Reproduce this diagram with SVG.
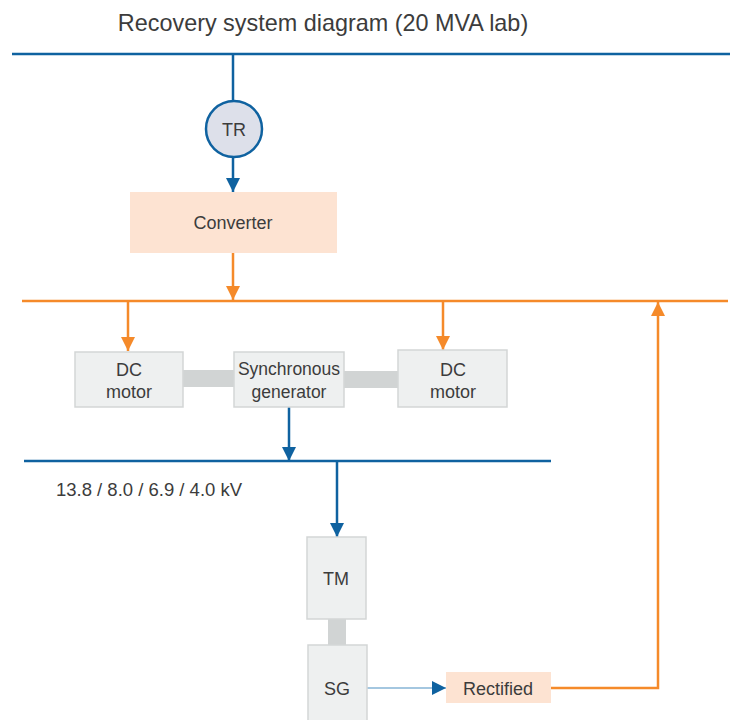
<svg xmlns="http://www.w3.org/2000/svg" width="730" height="720" viewBox="0 0 730 720">
<defs>
<marker id="ab" viewBox="0 0 14 14" refX="14" refY="7" markerWidth="14" markerHeight="14" markerUnits="userSpaceOnUse" orient="auto"><path d="M0,0 L14,7 L0,14 Z" fill="#0f62a0"/></marker>
<marker id="ao" viewBox="0 0 14 14" refX="14" refY="7" markerWidth="14" markerHeight="14" markerUnits="userSpaceOnUse" orient="auto"><path d="M0,0 L14,7 L0,14 Z" fill="#f58a2a"/></marker>
</defs>
<style>
text{font-family:"Liberation Sans",Arial,sans-serif;fill:#3c3c3c;font-size:18px;text-anchor:middle}
.box{fill:#eef0f0;stroke:#d3d6d6;stroke-width:1.5}
.peach{fill:#fde3d2}
.shaft{fill:#d1d4d4}
.b{stroke:#0f62a0;stroke-width:2.5;fill:none}
.o{stroke:#f58a2a;stroke-width:2.5;fill:none}
</style>
<rect width="730" height="720" fill="#fff"/>
<text x="323" y="31" style="font-size:23.4px">Recovery system diagram (20 MVA lab)</text>
<g id="connectors">
<line class="b" x1="12" y1="54" x2="730" y2="54"/>
<line class="b" x1="233" y1="54" x2="233" y2="101"/>
<path class="b" d="M233,158 V192" marker-end="url(#ab)"/>
<path class="o" d="M233,253 V300" marker-end="url(#ao)"/>
<line class="o" x1="22" y1="301" x2="728" y2="301"/>
<path class="o" d="M128,301 V351" marker-end="url(#ao)"/>
<path class="o" d="M443,301 V350" marker-end="url(#ao)"/>
<rect class="shaft" x="183" y="370" width="51" height="17"/>
<rect class="shaft" x="344" y="371" width="54" height="17"/>
<path class="b" d="M289,407 V461" marker-end="url(#ab)"/>
<line class="b" x1="24" y1="461" x2="551" y2="461"/>
<path class="b" d="M337,461 V537" marker-end="url(#ab)"/>
<rect class="shaft" x="328" y="619" width="18" height="26"/>
<path d="M367,688 H446" stroke="#4a8fc2" stroke-width="1.2" fill="none" marker-end="url(#ab)"/>
<path class="o" d="M551,688 H658 V302" marker-end="url(#ao)"/>
</g>
<g id="tr"><circle cx="234" cy="129" r="28" fill="#dde0ea" stroke="#0f62a0" stroke-width="2.5"/><text x="234" y="136">TR</text></g>
<g id="converter"><rect class="peach" x="130" y="192" width="207" height="61"/><text x="233" y="229">Converter</text></g>
<g id="dc-motor-left"><rect class="box" x="75" y="352" width="108" height="55"/><text x="129" y="376">DC</text><text x="129" y="398">motor</text></g>
<g id="sync-gen"><rect class="box" x="234" y="352" width="110" height="55"/><text x="289" y="375" style="font-size:17.5px">Synchronous</text><text x="289" y="398" style="font-size:17.5px">generator</text></g>
<g id="dc-motor-right"><rect class="box" x="398" y="350" width="109" height="57"/><text x="453" y="376">DC</text><text x="453" y="398">motor</text></g>
<g id="bus-label"><text x="149" y="496" style="font-size:18.5px">13.8 / 8.0 / 6.9 / 4.0 kV</text></g>
<g id="tm"><rect class="box" x="307" y="537" width="59" height="82"/><text x="336" y="585">TM</text></g>
<g id="sg"><rect class="box" x="308" y="645" width="59" height="90"/><text x="337" y="695">SG</text></g>
<g id="rectified"><rect class="peach" x="446" y="672" width="105" height="31"/><text x="498" y="695">Rectified</text></g>
</svg>
